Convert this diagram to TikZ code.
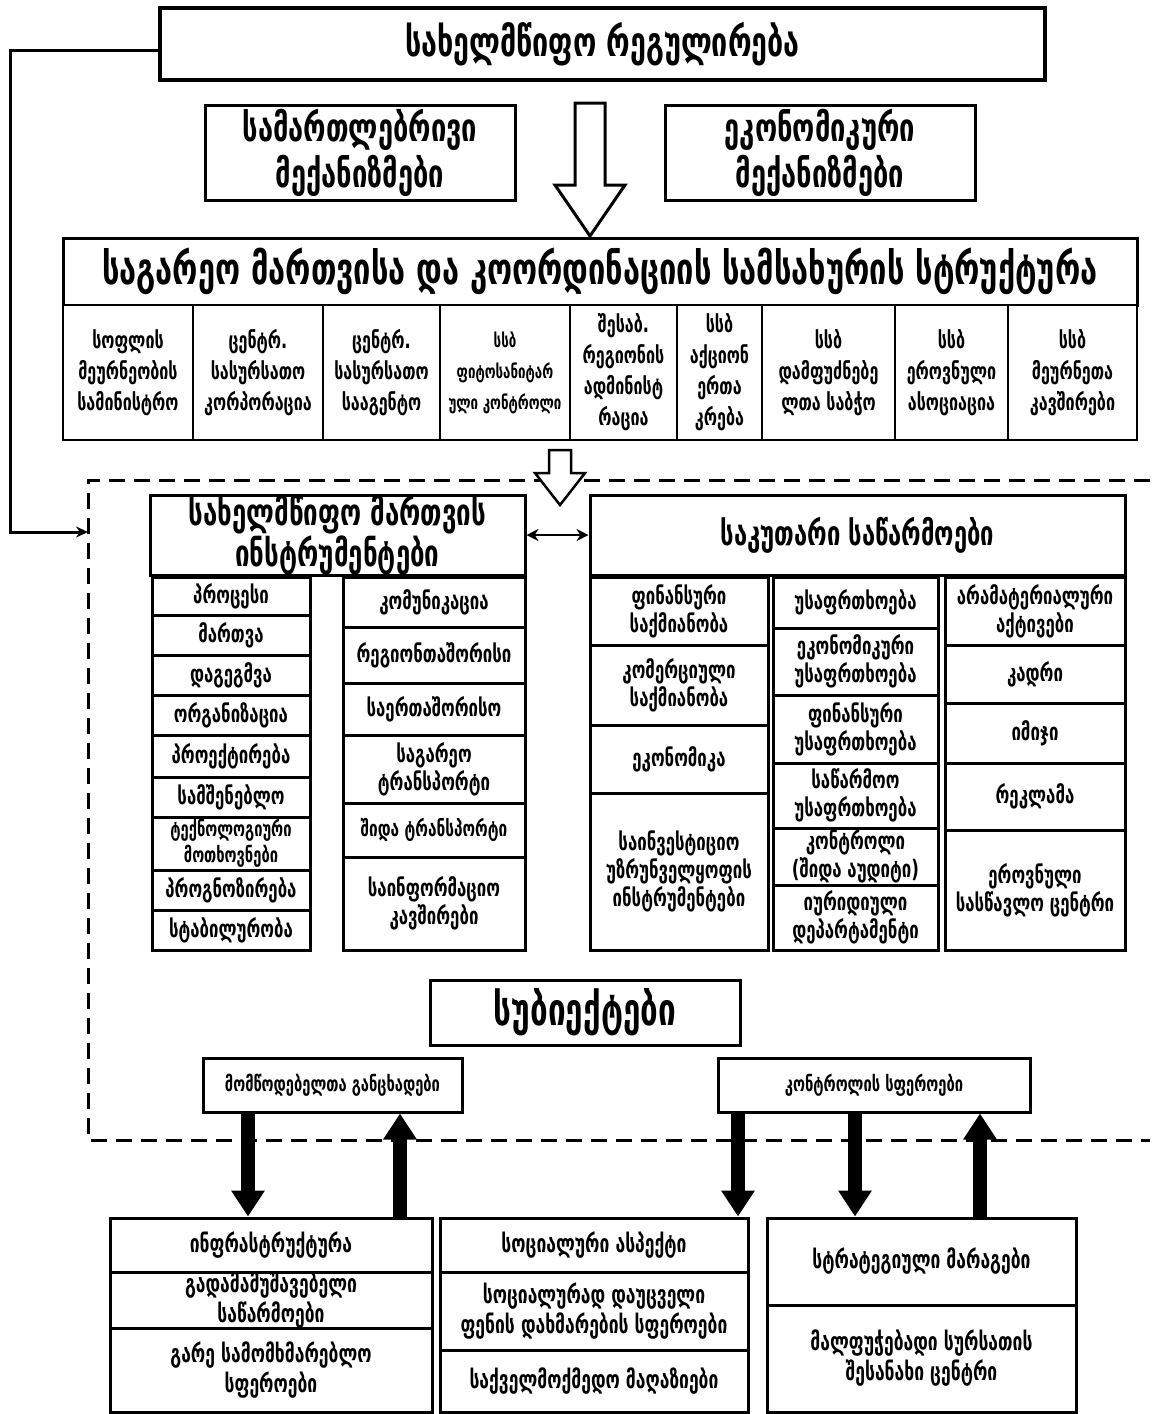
\documentclass[tikz,border=0pt]{standalone}
\usepackage{fontspec}
\newfontfamily\geo[FakeStretch=0.7]{DejaVu Sans}
\usetikzlibrary{arrows.meta}
\newcommand\mybox[7][]{%
  \pgfmathsetmacro\bxcx{(#3+#5)/2}%
  \pgfmathsetmacro\bxcy{(#4+#6)/2}%
  \pgfmathsetmacro\bxw{#5-#3}%
  \pgfmathsetmacro\bxh{#6-#4}%
  \node[box,minimum width=\bxw pt,minimum height=\bxh pt,#1] (#2) at (\bxcx,\bxcy) {#7};}
\tikzset{
  box/.style={draw, line width=3pt, inner sep=0pt, align=center, fill=white,
    font=\geo\bfseries\fontsize{24}{28}\selectfont},
  huge/.style={line width=4pt, font=\geo\bfseries\fontsize{41}{48}\selectfont},
  big/.style={font=\geo\bfseries\fontsize{39}{46}\selectfont},
  mid/.style={font=\geo\bfseries\fontsize{37}{38}\selectfont},
  cell/.style={line width=2.5pt, font=\geo\bfseries\fontsize{23}{31}\selectfont},
  bot/.style={font=\geo\bfseries\fontsize{25}{30}\selectfont},
  sub/.style={font=\geo\bfseries\fontsize{21}{24}\selectfont},
  fat/.style={line width=14pt, -{Triangle[width=32pt,length=26pt]}},
  hollow/.style={draw, line width=3pt, fill=white, line join=miter},
  dashframe/.style={line width=3pt, dash pattern=on 16pt off 9pt},
  feed/.style={line width=3pt, -{Stealth[length=12pt,width=11pt]}},
}
\begin{document}
\begin{tikzpicture}[x=1pt,y=-1pt]
\useasboundingbox (0,0) rectangle (1155,1414);
% dashed frame
\draw[dashframe] (1150,480) -- (88,480) -- (88,1140) -- (1150,1140);
% top
\mybox[huge]{top}{160}{8}{1045}{80}{სახელმწიფო რეგულირება}
\mybox[big]{legal}{205}{105}{515}{200}{სამართლებრივი\\მექანიზმები}
\mybox[big]{econ}{665}{105}{975}{200}{ეკონომიკური\\მექანიზმები}
\mybox[big,font=\geo\bfseries\fontsize{44}{48}\selectfont]{struct}{63}{238}{1137}{305}{საგარეო მართვისა და კოორდინაციის სამსახურის სტრუქტურა}
% nine cells
\mybox[cell]{c1}{63}{305}{193}{440}{სოფლის\\მეურნეობის\\სამინისტრო}
\mybox[cell]{c2}{193}{305}{323}{440}{ცენტრ.\\სასურსათო\\კორპორაცია}
\mybox[cell]{c3}{323}{305}{440}{440}{ცენტრ.\\სასურსათო\\სააგენტო}
\mybox[cell,font=\geo\bfseries\fontsize{19}{31}\selectfont]{c4}{440}{305}{570}{440}{სსბ\\ფიტოსანიტარ\\ული კონტროლი}
\mybox[cell]{c5}{570}{305}{677}{440}{შესაბ.\\რეგიონის\\ადმინისტ\\რაცია}
\mybox[cell]{c6}{677}{305}{762}{440}{სსბ\\აქციონ\\ერთა\\კრება}
\mybox[cell]{c7}{762}{305}{895}{440}{სსბ\\დამფუძნებე\\ლთა საბჭო}
\mybox[cell]{c8}{895}{305}{1008}{440}{სსბ\\ეროვნული\\ასოციაცია}
\mybox[cell]{c9}{1008}{305}{1137}{440}{სსბ\\მეურნეთა\\კავშირები}
% hollow arrows
\draw[hollow] (575,103) -- (605,103) -- (605,185) -- (625,185) -- (590,236) -- (555,185) -- (575,185) -- cycle;
\draw[hollow, line width=2.5pt] (549,450) -- (571,450) -- (571,473) -- (585,473) -- (560,505) -- (535,473) -- (549,473) -- cycle;
% left panel
\mybox[mid]{instr}{150}{495}{525}{575}{სახელმწიფო მართვის\\ინსტრუმენტები}
\mybox{l1}{152}{577}{310}{615}{პროცესი}
\mybox{l2}{152}{615}{310}{655}{მართვა}
\mybox{l3}{152}{655}{310}{695}{დაგეგმვა}
\mybox{l4}{152}{695}{310}{735}{ორგანიზაცია}
\mybox{l5}{152}{735}{310}{777}{პროექტირება}
\mybox{l6}{152}{777}{310}{817}{სამშენებლო}
\mybox[font=\geo\bfseries\fontsize{21}{26}\selectfont]{l7}{152}{817}{310}{870}{ტექნოლოგიური\\მოთხოვნები}
\mybox{l8}{152}{870}{310}{910}{პროგნოზირება}
\mybox{l9}{152}{910}{310}{950}{სტაბილურობა}
\mybox{r1}{343}{577}{525}{627}{კომუნიკაცია}
\mybox{r2}{343}{627}{525}{683}{რეგიონთაშორისი}
\mybox{r3}{343}{683}{525}{735}{საერთაშორისო}
\mybox{r4}{343}{735}{525}{803}{საგარეო\\ტრანსპორტი}
\mybox[font=\geo\bfseries\fontsize{22}{28}\selectfont]{r5}{343}{803}{525}{857}{შიდა ტრანსპორტი}
\mybox{r6}{343}{857}{525}{950}{საინფორმაციო\\კავშირები}
% right panel
\mybox[font=\geo\bfseries\fontsize{34}{38}\selectfont]{own}{590}{495}{1125}{575}{საკუთარი საწარმოები}
\mybox{f1}{590}{577}{768}{645}{ფინანსური\\საქმიანობა}
\mybox{f2}{590}{645}{768}{725}{კომერციული\\საქმიანობა}
\mybox{f3}{590}{725}{768}{793}{ეკონომიკა}
\mybox{f4}{590}{793}{768}{950}{საინვესტიციო\\უზრუნველყოფის\\ინსტრუმენტები}
\mybox{g1}{773}{577}{938}{628}{უსაფრთხოება}
\mybox{g2}{773}{628}{938}{695}{ეკონომიკური\\უსაფრთხოება}
\mybox{g3}{773}{695}{938}{763}{ფინანსური\\უსაფრთხოება}
\mybox{g4}{773}{763}{938}{828}{საწარმოო\\უსაფრთხოება}
\mybox{g5}{773}{828}{938}{885}{კონტროლი\\(შიდა აუდიტი)}
\mybox{g6}{773}{885}{938}{950}{იურიდიული\\დეპარტამენტი}
\mybox{h1}{945}{577}{1125}{645}{არამატერიალური\\აქტივები}
\mybox{h2}{945}{645}{1125}{703}{კადრი}
\mybox{h3}{945}{703}{1125}{763}{იმიჯი}
\mybox{h4}{945}{763}{1125}{830}{რეკლამა}
\mybox{h5}{945}{830}{1125}{950}{ეროვნული\\სასწავლო ცენტრი}
\draw[line width=2.5pt,{Stealth[length=12pt,width=12pt]}-{Stealth[length=12pt,width=12pt]}] (instr.east) -- (own.west);
% subjects
\mybox[font=\geo\bfseries\fontsize{45}{50}\selectfont]{subj}{430}{980}{740}{1045}{სუბიექტები}
\mybox[sub]{s1}{203}{1058}{462}{1112}{მომწოდებელთა განცხადები}
\mybox[sub]{s2}{718}{1058}{1030}{1112}{კონტროლის სფეროები}
% bottom boxes
\mybox[bot]{b1a}{110}{1218}{432}{1273}{ინფრასტრუქტურა}
\mybox[bot]{b1b}{110}{1273}{432}{1328}{გადამამუშავებელი\\საწარმოები}
\mybox[bot]{b1c}{110}{1328}{432}{1412}{გარე სამომხმარებლო\\სფეროები}
\mybox[bot]{b2a}{440}{1218}{748}{1272}{სოციალური ასპექტი}
\mybox[bot]{b2b}{440}{1272}{748}{1350}{სოციალურად დაუცველი\\ფენის დახმარების სფეროები}
\mybox[bot]{b2c}{440}{1350}{748}{1412}{საქველმოქმედო მაღაზიები}
\mybox[bot]{b3a}{767}{1218}{1076}{1305}{სტრატეგიული მარაგები}
\mybox[bot]{b3b}{767}{1305}{1076}{1412}{მალფუჭებადი სურსათის\\შესანახი ცენტრი}
% fat arrows
\coordinate (x248) at (248,0);
\coordinate (x400) at (400,0);
\coordinate (x738) at (738,0);
\coordinate (x855) at (855,0);
\coordinate (x980) at (980,0);
\draw[fat] (s1.south -| x248) -- (b1a.north -| x248);
\draw[fat] (b1a.north -| x400) -- (s1.south -| x400);
\draw[fat] (s2.south -| x738) -- (b2a.north -| x738);
\draw[fat] (s2.south -| x855) -- (b3a.north -| x855);
\draw[fat] (b3a.north -| x980) -- (s2.south -| x980);
% feedback line
\coordinate (fbin) at (88,532);
\draw[feed] ([yshift=-6pt]top.west) -- ++(-148,0) |- (fbin);
\end{tikzpicture}
\end{document}
